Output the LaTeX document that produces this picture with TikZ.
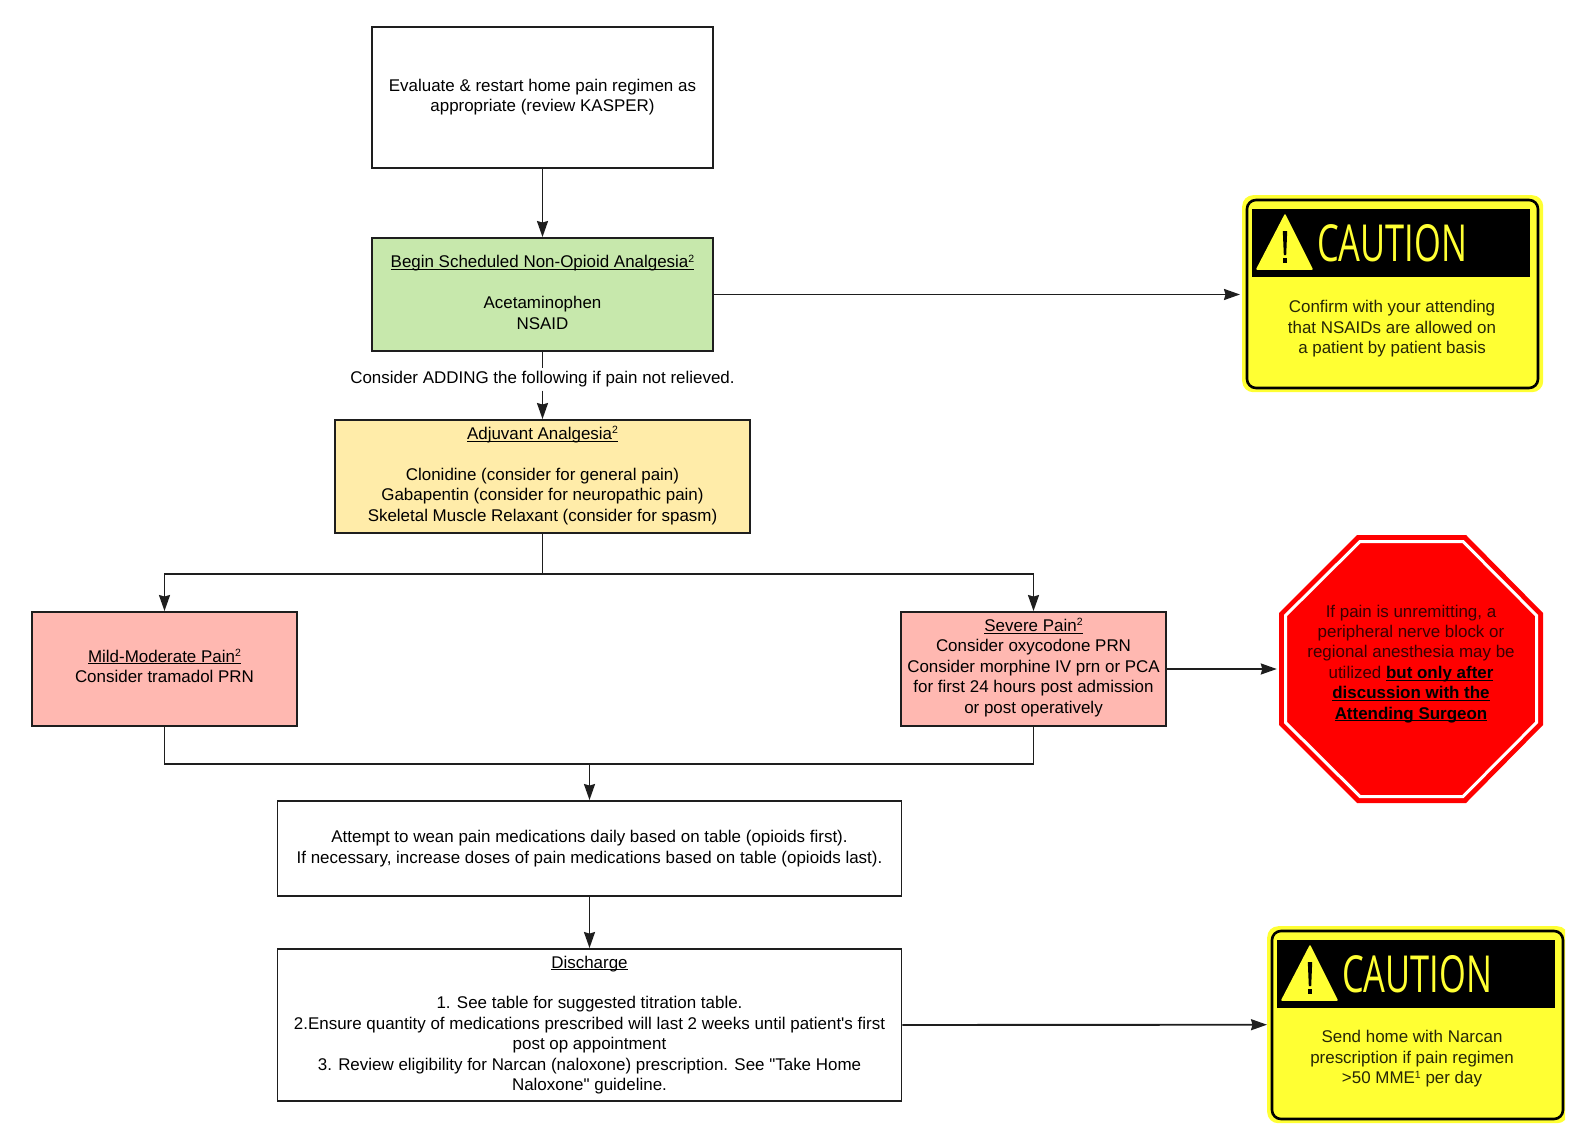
\documentclass[tikz,border=0pt]{standalone}
\usepackage{fontspec}
\usepackage{graphicx}
\setmainfont{Liberation Sans}
\newfontfamily\caufont{Open Sans}
\newfontfamily\plainfont{Liberation Sans}
\usetikzlibrary{arrows.meta}
\definecolor{boxgreen}{HTML}{C7E8AC}
\definecolor{boxyellow}{HTML}{FFECA9}
\definecolor{boxpink}{HTML}{FFB8B1}
\definecolor{signyellow}{HTML}{FFFF33}
\definecolor{stopred}{HTML}{FF0000}
\definecolor{inkline}{HTML}{1E1E1E}
\newcommand{\txtfont}{\fontsize{16.95}{20.4}\selectfont}
\newcommand{\smallsup}[1]{\raisebox{5.5pt}{\fontsize{10.5}{10.5}\selectfont #1}}
\newcommand{\ulin}[1]{\underline{\smash{#1}}}
\newcommand{\cautionsign}[7]{%
 % name, x, y, clip width, text x, text y, text
 \begin{scope}[shift={(#2,#3)}]
  \clip (-1,-1) rectangle (#4,199);
  \node[signouter,anchor=north west] (#1) at (0,0) {};
  \draw[line width=2.6pt,rounded corners=9pt] (5,5) rectangle (296,193);
  \fill[black] (10,14) rectangle (288,82);
  \fill[signyellow,draw=signyellow,line width=1.5pt,line join=round] (43,20) -- (70,74) -- (15,74) -- cycle;
  \fill[black] (40.8,36) -- (45.2,36) -- (44.2,60) -- (41.8,60) -- cycle;
  \fill[black] (40.8,63) rectangle (45.2,68);
  \node[anchor=west,inner sep=0pt,text=signyellow] (#1cap) at (75,48) {\resizebox{150pt}{37pt}{\caufont CAUTION}};
  \node[signtext] (#1txt) at (#5,#6) {#7};
 \end{scope}}
\tikzset{
 flowbox/.style={draw=inkline,line width=1.9pt,inner sep=0pt,fill=white},
 boxtxt/.style={font=\txtfont,align=center,inner sep=0pt},
 signtext/.style={font=\txtfont,align=center,inner sep=0pt,text=black!85!signyellow},
 signouter/.style={fill=signyellow,rounded corners=11pt,minimum width=301pt,minimum height=197pt,inner sep=0pt},
 link/.style={draw=inkline,line width=1.9pt},
 arrowlink/.style={link,-{Stealth[length=16pt,width=11pt,inset=1.5pt]}},
}
\begin{document}
\begin{tikzpicture}[x=1pt,y=-1pt]
\path[use as bounding box,fill=white] (0,0) rectangle (1576,1126);

\node[flowbox,minimum width=341pt,minimum height=141pt,
  label={[boxtxt,yshift=0.5pt]center:{Evaluate \& restart home pain regimen as\\appropriate (review KASPER)}}] (eval) at (542.5,97.5) {};
\node[flowbox,fill=boxgreen,minimum width=341pt,minimum height=113pt,
  label={[boxtxt,yshift=-4pt]center:{\ulin{Begin Scheduled Non-Opioid Analgesia\smallsup{2}}\\[20.4pt]Acetaminophen\\NSAID}}] (nonop) at (542.5,294.5) {};
\node[flowbox,fill=boxyellow,minimum width=415pt,minimum height=113pt,
  label={[boxtxt,yshift=-5.5pt]center:{\ulin{Adjuvant Analgesia\smallsup{2}}\\[20.4pt]Clonidine (consider for general pain)\\Gabapentin (consider for neuropathic pain)\\Skeletal Muscle Relaxant (consider for spasm)}}] (adj) at (542.5,476.5) {};
\node[flowbox,fill=boxpink,minimum width=265pt,minimum height=114pt,
  label={[boxtxt,yshift=-3.5pt]center:{\ulin{Mild-Moderate Pain\smallsup{2}}\\Consider tramadol PRN}}] (mild) at (164.5,669) {};
\node[flowbox,fill=boxpink,minimum width=265pt,minimum height=114pt,
  label={[boxtxt,yshift=-5pt]center:{\ulin{Severe Pain\smallsup{2}}\\Consider oxycodone PRN\\Consider morphine IV prn or PCA\\for first 24 hours post admission\\or post operatively}}] (severe) at (1033.5,669) {};
\node[flowbox,minimum width=624pt,minimum height=95pt,
  label={[boxtxt]center:{Attempt to wean pain medications daily based on table (opioids first).\\If necessary, increase doses of pain medications based on table (opioids last).}}] (wean) at (589.5,848.5) {};
\node[flowbox,minimum width=624pt,minimum height=152pt,
  label={[boxtxt,yshift=-6pt]center:{\ulin{Discharge}\\[20.4pt]1. See table for suggested titration table.\\2.Ensure quantity of medications prescribed will last 2 weeks until patient{\plainfont '}s first\\post op appointment\\3. Review eligibility for Narcan (naloxone) prescription. See {\plainfont "}Take Home\\Naloxone{\plainfont "} guideline.}}] (disch) at (589.5,1025) {};

\cautionsign{cautiona}{1242}{195}{301}{150}{134}{Confirm with your attending\\that NSAIDs are allowed on\\a patient by patient basis}
\cautionsign{cautionb}{1267}{926}{298}{145}{133}{Send home with Narcan\\prescription if pain regimen\\>50 MME\smallsup{1} per day}

\fill[stopred] (1357,535) -- (1466,535) -- (1543,613) -- (1543,725) -- (1466,803) -- (1357,803) -- (1279,725) -- (1279,613) -- cycle;
\draw[white,line width=3pt] (1360,541.5) -- (1463,541.5) -- (1536.5,615.5) -- (1536.5,722.5) -- (1463,796.5) -- (1360,796.5) -- (1285.5,722.5) -- (1285.5,615.5) -- cycle;
\node[inner sep=0pt,minimum width=264pt,minimum height=268pt,
  label={[boxtxt,yshift=6pt,text=black!78!stopred]center:{If pain is unremitting, a\\peripheral nerve block or\\regional anesthesia may be\\utilized \textcolor{black}{\textbf{\ulin{but only after}}}\\\textcolor{black}{\textbf{\ulin{discussion with the}}}\\\textcolor{black}{\textbf{\ulin{Attending Surgeon}}}}}] (stop) at (1411,669) {};

\node[boxtxt,fill=white,inner ysep=3pt,inner xsep=2pt] (addlabel) at (542.5,379.5) {Consider ADDING the following if pain not relieved.};
\coordinate (branch) at (542.5,574);
\coordinate (merge) at (589.5,764);

\draw[arrowlink] (eval) -- (nonop);
\draw[link] (nonop) -- (addlabel);
\draw[arrowlink] (addlabel) -- (adj);
\draw[link] (adj) -- (branch);
\draw[arrowlink] (branch) -| (mild);
\draw[arrowlink] (branch) -| (severe);
\draw[link] (mild) |- (merge);
\draw[link] (severe) |- (merge);
\draw[arrowlink] (merge) -- (wean);
\draw[arrowlink] (wean) -- (disch);
\draw[arrowlink,shorten >=2pt] (nonop) -- (cautiona.west |- nonop);
\draw[arrowlink,shorten >=2pt] (severe) -- (stop);
\draw[arrowlink] (disch.east) -- (cautionb.west);
\end{tikzpicture}
\end{document}
